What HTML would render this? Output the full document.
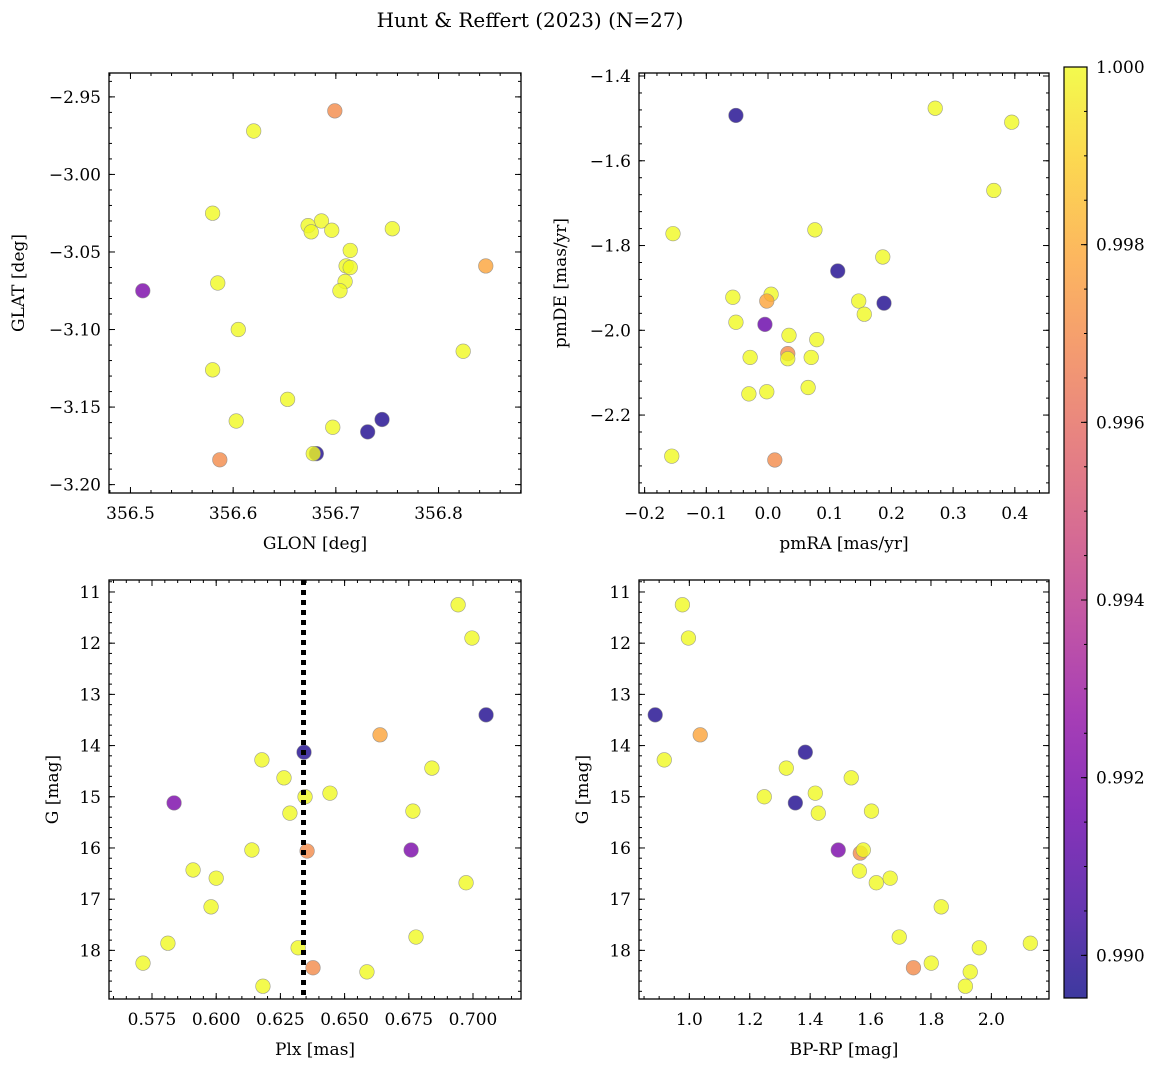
<!DOCTYPE html>
<html><head><meta charset="utf-8"><style>
html,body{margin:0;padding:0;background:#fff;}
svg text{font-family:"DejaVu Serif","Liberation Serif",serif;fill:#000;}
</style></head><body>
<svg id="fig" width="1161" height="1067" xmlns="http://www.w3.org/2000/svg">
<defs>
<linearGradient id="plasma" x1="0" y1="1" x2="0" y2="0">
<stop offset="0" stop-color="#0d0887"/><stop offset="0.1" stop-color="#41049d"/><stop offset="0.2" stop-color="#6a00a8"/><stop offset="0.3" stop-color="#8f0da4"/><stop offset="0.4" stop-color="#b12a90"/><stop offset="0.5" stop-color="#cc4778"/><stop offset="0.6" stop-color="#e16462"/><stop offset="0.7" stop-color="#f2844b"/><stop offset="0.8" stop-color="#fca636"/><stop offset="0.9" stop-color="#fcce25"/><stop offset="1" stop-color="#f0f921"/>
</linearGradient>
</defs>
<text x="530" y="27" font-size="20" text-anchor="middle">Hunt &amp; Reffert (2023) (N=27)</text>
</svg>
<script>
// ---- data ----
const glon=[356.699,356.620,356.580,356.686,356.673,356.676,356.696,356.755,356.714,356.710,356.714,356.709,356.704,356.846,356.512,356.585,356.605,356.580,356.824,356.653,356.697,356.603,356.745,356.731,356.587,356.681,356.678];
const glat=[-2.959,-2.972,-3.025,-3.030,-3.033,-3.037,-3.036,-3.035,-3.049,-3.059,-3.060,-3.069,-3.075,-3.059,-3.075,-3.070,-3.100,-3.126,-3.114,-3.145,-3.163,-3.159,-3.158,-3.166,-3.184,-3.180,-3.180];
const prob1=[0.9970,1,1,1,1,1,1,1,1,1,1,1,1,0.9978,0.9920,1,1,1,1,1,1,1,0.9898,0.9898,0.9970,0.9898,1];
const pmra=[0.271,0.395,-0.052,0.366,-0.154,0.076,0.113,0.186,-0.057,0.005,-0.002,0.147,0.188,0.156,-0.052,-0.005,0.034,0.079,0.032,0.032,-0.029,0.070,-0.031,-0.002,0.065,-0.156,0.011];
const pmde=[-1.476,-1.509,-1.493,-1.670,-1.772,-1.763,-1.860,-1.827,-1.922,-1.915,-1.931,-1.931,-1.936,-1.962,-1.981,-1.986,-2.012,-2.022,-2.055,-2.067,-2.064,-2.064,-2.150,-2.145,-2.135,-2.297,-2.306];
const prob2=[1,1,0.9898,1,1,1,0.9898,1,1,1,0.9978,1,0.9898,1,1,0.9915,1,1,0.9970,1,1,1,1,1,1,1,0.9970];
const plx=[0.6942,0.6996,0.7051,0.6638,0.6342,0.6178,0.6840,0.6264,0.5836,0.6443,0.6346,0.6287,0.6766,0.6139,0.6354,0.6759,0.5910,0.6000,0.6973,0.5980,0.6778,0.5812,0.6319,0.6377,0.5715,0.6587,0.6182];
const gmag3=[11.25,11.90,13.40,13.79,14.13,14.28,14.44,14.63,15.12,14.93,15.00,15.32,15.28,16.04,16.06,16.04,16.43,16.59,16.68,17.15,17.74,17.86,17.95,18.34,18.25,18.42,18.70];
const prob3=[1,1,0.9898,0.9978,0.9898,1,1,1,0.9920,1,1,1,1,1,0.9970,0.9920,1,1,1,1,1,1,1,0.9970,1,1,1];
const bprp=[0.977,0.997,0.887,1.036,0.917,1.384,1.321,1.536,1.417,1.248,1.351,1.427,1.603,1.493,1.566,1.576,1.563,1.619,1.665,1.834,1.695,2.129,1.960,1.742,1.801,1.930,1.914];
const gmag4=[11.25,11.90,13.40,13.79,14.28,14.13,14.44,14.63,14.93,15.00,15.12,15.32,15.28,16.04,16.10,16.04,16.45,16.68,16.59,17.15,17.74,17.86,17.95,18.34,18.25,18.42,18.70];
const prob4=[1,1,0.9898,0.9978,1,0.9898,1,1,1,1,0.9898,1,1,0.9920,0.9970,1,1,1,1,1,1,1,1,0.9970,1,1,1];
const plxLine=0.634;
const cbTicks=[0.990,0.992,0.994,0.996,0.998,1.000];
const cbMin=0.98952, cbMax=1.0;

const NS="http://www.w3.org/2000/svg";
const svg=document.getElementById('fig');
function mk(t,a,p){const e=document.createElementNS(NS,t);for(const k in a)e.setAttribute(k,a[k]);(p||svg).appendChild(e);return e;}
const stops=[[13,8,135],[65,4,157],[106,0,168],[143,13,164],[177,42,144],[204,71,120],[225,100,98],[242,132,75],[252,166,54],[252,206,37],[240,249,33]];
function plasma(v){let t=(v-cbMin)/(cbMax-cbMin);t=Math.max(0,Math.min(1,t))*10;const i=Math.min(9,Math.floor(t)),f=t-i;const a=stops[i],b=stops[i+1];return 'rgb('+a.map((c,k)=>Math.round(c+(b[k]-c)*f)).join(',')+')';}
function fmt(v,d){return (v<0?'\u2212':'')+Math.abs(v).toFixed(d);}

function panel(o){
  const g=mk('g',{});
  
  
  const sx=v=>o.x0+(v-o.xmin)/(o.xmax-o.xmin)*(o.x1-o.x0);
  const sy=o.yinv? v=>o.y0+(v-o.ymin)/(o.ymax-o.ymin)*(o.y1-o.y0) : v=>o.y1-(v-o.ymin)/(o.ymax-o.ymin)*(o.y1-o.y0);
  for(let i=0;i<o.xs.length;i++){
    const c=mk('circle',{cx:sx(o.xs[i]),cy:sy(o.ys[i]),r:7.3,fill:plasma(o.cs[i]),'fill-opacity':0.8,stroke:'#888','stroke-width':0.6,'stroke-opacity':0.8},g);
    
    
  }
  if(o.vline!==undefined){
    const l=mk('line',{x1:sx(o.vline),x2:sx(o.vline),y1:o.y0,y2:o.y1,stroke:'#000','stroke-width':5,'stroke-dasharray':'5,5'},g);
    
    
  }
  const tg=mk('g',{stroke:'#000','stroke-width':1},g);
  const eps=1e-9;
  function ticks(min,max,step,len,isX,label,dec){
    const s=Math.ceil((min-eps)/step);
    for(let k=s;k*step<=max+eps;k++){
      const v=k*step;
      if(isX){const x=sx(v);mk('line',{x1:x,x2:x,y1:o.y1,y2:o.y1-len},tg);mk('line',{x1:x,x2:x,y1:o.y0,y2:o.y0+len},tg);
        if(label){const t=mk('text',{x:x,y:o.y1+26,'font-size':17,'text-anchor':'middle'},g);t.textContent=fmt(v,dec);}}
      else{const y=sy(v);mk('line',{x1:o.x0,x2:o.x0+len,y1:y,y2:y},tg);mk('line',{x1:o.x1,x2:o.x1-len,y1:y,y2:y},tg);
        if(label){const t=mk('text',{x:o.x0-8,y:y+6,'font-size':17,'text-anchor':'end'},g);t.textContent=fmt(v,dec);}}
    }
  }
  ticks(o.xmin,o.xmax,o.xmaj,6,true,true,o.xdec);
  ticks(o.xmin,o.xmax,o.xmin_,3,true,false);
  ticks(Math.min(o.ymin,o.ymax),Math.max(o.ymin,o.ymax),o.ymaj,6,false,true,o.ydec);
  ticks(Math.min(o.ymin,o.ymax),Math.max(o.ymin,o.ymax),o.ymin_,3,false,false);
  const fr=mk('rect',{x:o.x0,y:o.y0,width:o.x1-o.x0,height:o.y1-o.y0,fill:'none',stroke:'#000','stroke-width':1.3},g);
  
  
  const xl=mk('text',{x:(o.x0+o.x1)/2,y:o.y1+56,'font-size':17,'text-anchor':'middle'},g);
  xl.textContent=o.xlabel;
  
  
  const yx=o.ylx, yy=(o.y0+o.y1)/2;
  const yl=mk('text',{x:yx,y:yy,'font-size':17,'text-anchor':'middle',transform:'rotate(-90 '+yx+' '+yy+')'},g);
  yl.textContent=o.ylabel;
  
  
}

panel({name:'glon-glat-panel',x0:109,x1:521,y0:73,y1:493,xmin:356.4791,xmax:356.8803,ymin:-3.2054,ymax:-2.9346,xmaj:0.1,xmin_:0.02,ymaj:0.05,ymin_:0.01,xdec:1,ydec:2,xs:glon,ys:glat,cs:prob1,xlabel:'GLON [deg]',ylabel:'GLAT [deg]',ylx:24});
panel({name:'proper-motion-panel',x0:639,x1:1049,y0:73,y1:493,xmin:-0.2091,xmax:0.4554,ymin:-2.3839,ymax:-1.3929,xmaj:0.1,xmin_:0.02,ymaj:0.2,ymin_:0.04,xdec:1,ydec:1,xs:pmra,ys:pmde,cs:prob2,xlabel:'pmRA [mas/yr]',ylabel:'pmDE [mas/yr]',ylx:566});
panel({name:'parallax-mag-panel',x0:109,x1:521,y0:580,y1:999,xmin:0.55826,xmax:0.71869,ymin:10.766,ymax:18.95,yinv:true,xmaj:0.025,xmin_:0.005,ymaj:1,ymin_:0.2,xdec:3,ydec:0,xs:plx,ys:gmag3,cs:prob3,vline:plxLine,xlabel:'Plx [mas]',ylabel:'G [mag]',ylx:58});
panel({name:'cmd-panel',x0:639,x1:1049,y0:580,y1:999,xmin:0.8333,xmax:2.1908,ymin:10.766,ymax:18.95,yinv:true,xmaj:0.2,xmin_:0.05,ymaj:1,ymin_:0.2,xdec:1,ydec:0,xs:bprp,ys:gmag4,cs:prob4,xlabel:'BP-RP [mag]',ylabel:'G [mag]',ylx:588});

const cb=mk('g',{});


const cbY0=67,cbY1=998,cbX0=1064,cbX1=1087;
mk('rect',{x:cbX0,y:cbY0,width:cbX1-cbX0,height:cbY1-cbY0,fill:'url(#plasma)','fill-opacity':0.8},cb);
mk('rect',{x:cbX0,y:cbY0,width:cbX1-cbX0,height:cbY1-cbY0,fill:'none',stroke:'#000','stroke-width':1.2},cb);
const cy=v=>cbY1-(v-cbMin)/(cbMax-cbMin)*(cbY1-cbY0);
for(let v=0.9900;v<=1.00001;v+=0.0005){const y=cy(v);mk('line',{x1:cbX1,x2:cbX1-3,y1:y,y2:y,stroke:'#000'},cb);}
cbTicks.forEach(v=>{const y=cy(v);mk('line',{x1:cbX1,x2:cbX1-6,y1:y,y2:y,stroke:'#000'},cb);
  const t=mk('text',{x:1096,y:y+6,'font-size':17},cb);t.textContent=v.toFixed(3);
  
  });
</script>
</body></html>
